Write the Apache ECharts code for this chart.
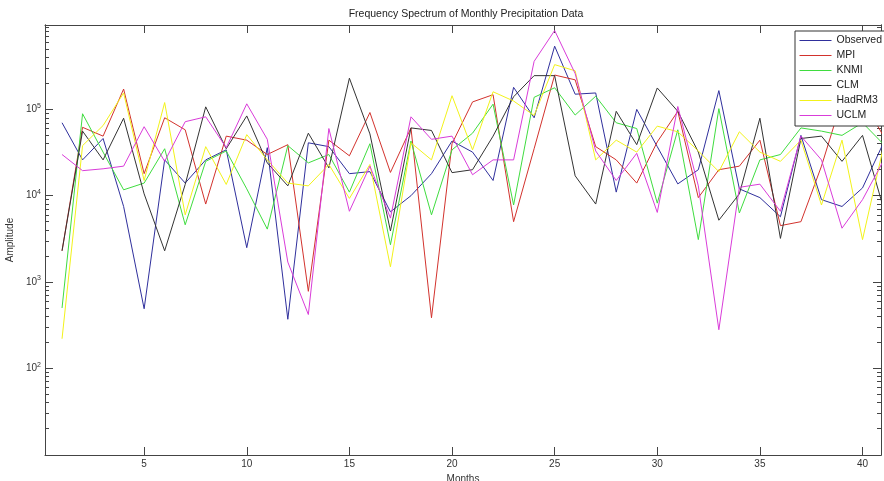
<!DOCTYPE html>
<html>
<head>
<meta charset="utf-8">
<script src="https://cdn.jsdelivr.net/npm/echarts@6/dist/echarts.min.js"></script>
<style>
html,body{margin:0;padding:0;background:#fff;}
#chart{width:884px;height:481px;}
</style>
</head>
<body>
<div id="chart"></div>
<script>
const months = [1,2,3,4,5,6,7,8,9,10,11,12,13,14,15,16,17,18,19,20,21,22,23,24,25,26,27,28,29,30,31,32,33,34,35,36,37,38,39,40,41];
const seriesNames = ['Observed','MPI','KNMI','CLM','HadRM3','UCLM'];
const xTickLabels = [5,10,15,20,25,30,35,40];
const yTickLabels = [100,1000,10000,100000];

const observed = [70000,26000,46000,7500,490,26000,14000,26000,34000,2500,36000,370,41000,37000,18000,19000,6500,10000,18000,43000,32000,15000,180000,80000,540000,150000,155000,11000,100000,37000,13700,20000,165000,12000,9500,5700,50000,9000,7500,12300,40000];
const mpi = [2300,62000,49000,172000,18000,80000,58000,8000,49000,44000,30000,39000,780,44000,29000,92000,18600,61000,385,40000,122000,148000,5000,35000,250000,220000,37000,26000,14000,42000,95000,9500,20000,22000,44000,4500,5000,22000,130000,130000,50000];
const knmi = [500,89000,32000,11700,14000,35000,4600,25000,33000,12000,4100,38000,24000,30000,11000,40000,2700,43000,6000,34000,53000,115000,7800,138000,178000,86000,142000,70000,60000,8200,58000,3100,102000,6300,26000,30000,61000,56000,50000,70000,40000];
const clm = [2300,56000,26000,79000,10500,2300,13500,107000,35000,84000,24000,13000,53000,21000,230000,52000,3900,61000,57000,18500,20000,49000,140000,246000,246000,17000,8000,95000,39000,177000,95000,32000,5200,10500,79000,3200,46000,49000,25000,50000,7500];
const hadrm3 = [220,38000,65000,155000,15000,120000,6000,37000,13500,51000,26000,14000,13000,23000,9300,23000,1500,41000,26000,144000,34000,160000,125000,85000,330000,280000,26000,44000,32000,64000,55000,33000,19000,55000,32000,25000,44000,7800,44000,3100,35000];
const uclm = [30000,19500,20500,22000,63000,25000,72000,82000,36000,116000,45000,1700,420,60000,6600,22000,5500,82000,45000,49000,17500,26000,26000,360000,820000,260000,33000,15000,31000,6400,108000,13000,280,12500,13600,6600,49000,26000,4200,9000,25000];

const allValues = [observed, mpi, knmi, clm, hadrm3, uclm];
const colors = ['#2f2f9c','#d2322d','#3fdc3f','#333333','#f2f21a','#d93cd9'];

const minorTicks = [];
for (let k = 1; k <= 5; k++) for (let m = 2; m <= 9; m++) minorTicks.push(m * Math.pow(10, k));

const XMIN = 0.17, XMAX = 40.9, YMIN = 9.9, YMAX = 950000;
const axisColor = '#444';
const font = 'Liberation Sans, Arial, sans-serif';

const chart = echarts.init(document.getElementById('chart'), null, {renderer: 'canvas'});

function xAx(pos, showLabel) {
  return {
    type: 'value', position: pos, min: XMIN, max: XMAX,
    axisLine: {show: true, onZero: false, lineStyle: {color: axisColor, width: 1}},
    axisTick: {show: true, inside: true, length: 8, customValues: xTickLabels, lineStyle: {color: axisColor}},
    axisLabel: {show: showLabel, customValues: xTickLabels, margin: 4, fontSize: 10, color: '#333', fontFamily: font},
    splitLine: {show: false},
    name: showLabel ? 'Months' : '',
    nameLocation: 'middle', nameGap: 17,
    nameTextStyle: {fontSize: 10, color: '#333', fontFamily: font}
  };
}
function yAx(pos, ticks, len, showLabel) {
  return {
    type: 'log', logBase: 10, position: pos, min: YMIN, max: YMAX,
    axisLine: {show: true, onZero: false, lineStyle: {color: axisColor, width: 1}},
    axisTick: {show: true, inside: true, length: len, customValues: ticks, lineStyle: {color: axisColor}},
    axisLabel: {
      show: showLabel, customValues: yTickLabels, margin: 4,
      formatter: function (v) {
        const e = Math.round(Math.log10(v));
        return '{b|10}{s|' + e + '}';
      },
      rich: {
        b: {fontSize: 10, color: '#333', fontFamily: font},
        s: {fontSize: 7, color: '#333', fontFamily: font, padding: [0, 0, 7, 0]}
      }
    },
    splitLine: {show: false},
    name: showLabel ? 'Amplitude' : '',
    nameLocation: 'middle', nameGap: 30, nameRotate: 90,
    nameTextStyle: {fontSize: 10, color: '#333', fontFamily: font}
  };
}

const option = {
  backgroundColor: '#ffffff',
  animation: false,
  title: {
    text: 'Frequency Spectrum of Monthly Precipitation Data',
    left: 461, top: 4, textAlign: 'center',
    textStyle: {fontSize: 10.5, fontWeight: 'normal', color: '#222', fontFamily: font}
  },
  grid: {left: 45, right: 3, top: 25, bottom: 26, outerBoundsMode: 'none', containLabel: false},
  legend: {
    data: seriesNames.map((n, i) => ({name: n, lineStyle: {color: colors[i], width: 1}})),
    orient: 'vertical', left: 795, top: 31,
    itemWidth: 32, itemHeight: 13, itemGap: 2,
    padding: [3, 8, 4, 4],
    backgroundColor: '#fff', borderColor: '#333', borderWidth: 1, borderRadius: 0,
    textStyle: {fontSize: 10.5, color: '#222', fontFamily: font, lineHeight: 13, height: 13},
    itemStyle: {opacity: 0}
  },
  xAxis: [xAx('bottom', true), xAx('top', false)],
  yAxis: [
    yAx('left', yTickLabels, 8, true),
    yAx('left', minorTicks, 4, false),
    yAx('right', yTickLabels, 8, false),
    yAx('right', minorTicks, 4, false)
  ],
  series: seriesNames.map((name, i) => ({
    name: name, type: 'line', xAxisIndex: 0, yAxisIndex: 0,
    data: months.map((m, j) => [m, allValues[i][j]]),
    symbol: 'none', showSymbol: false, clip: true,
    lineStyle: {color: colors[i], width: 1},
    itemStyle: {color: colors[i]}
  }))
};
chart.setOption(option);
</script>
</body>
</html>
